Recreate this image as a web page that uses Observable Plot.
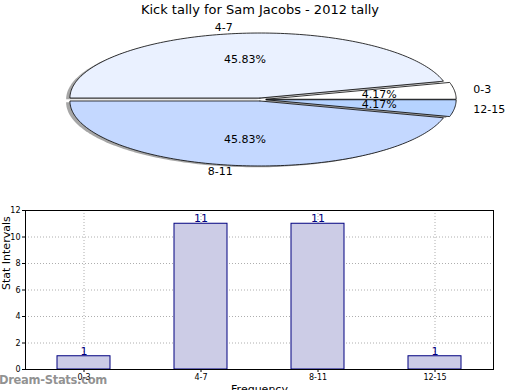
<!DOCTYPE html>
<html><head><meta charset="utf-8">
<script src="https://cdn.jsdelivr.net/npm/d3@7"></script>
<script src="https://cdn.jsdelivr.net/npm/@observablehq/plot@0.6"></script>
<style>
body{margin:0;background:#fff;font-family:"DejaVu Sans",sans-serif;}
#wrap{position:relative;width:520px;height:390px;overflow:hidden;}
#title{position:absolute;left:0;top:2px;width:520px;text-align:center;font-size:13px;color:#000;}
#pie{position:absolute;left:0;top:20px;}
#bar{position:absolute;left:0;top:200px;}
#wm{position:absolute;left:-1px;top:373px;font-size:11.5px;font-weight:600;color:rgba(110,110,110,0.75);letter-spacing:-0.3px;}
</style></head>
<body><div id="wrap">
<div id="title">Kick tally for Sam Jacobs - 2012 tally</div>
<div id="pie"></div>
<div id="bar"></div>
<div id="wm">Dream-Stats.com</div>
</div>
<script>
const categories = ["0-3", "4-7", "8-11", "12-15"];
const counts = [1, 11, 11, 1];
const pctLabels = ["4.17%", "45.83%", "45.83%", "4.17%"];
const sliceColors = ["#ffffff", "#eaf1ff", "#c4d8ff", "#b6d3ff"];
const explode = [0.03, 0.023, 0.023, 0.03];

// ---- Pie (drawn with Plot.line on linear x/y scales) ----
const total = d3.sum(counts);
let acc = 0;
const slices = categories.map((c, i) => {
  const a0 = acc / total * 2 * Math.PI;
  acc += counts[i];
  const a1 = acc / total * 2 * Math.PI;
  const mid = (a0 + a1) / 2;
  return {cat: c, i, a0, a1, mid, ox: explode[i] * Math.cos(mid), oy: explode[i] * Math.sin(mid)};
});
function polygon(s, dx, dy, kind) {
  const pts = [{x: s.ox + dx, y: s.oy + dy, cat: s.cat, kind}];
  const n = Math.max(4, Math.ceil((s.a1 - s.a0) / 0.02));
  for (let k = 0; k <= n; k++) {
    const a = s.a0 + (s.a1 - s.a0) * k / n;
    pts.push({x: s.ox + dx + Math.cos(a), y: s.oy + dy + Math.sin(a), cat: s.cat, kind});
  }
  pts.push({x: s.ox + dx, y: s.oy + dy, cat: s.cat, kind});
  return pts;
}
const shadowPts = slices.flatMap(s => polygon(s, -0.02, -0.02, "shadow"));
const slicePts = slices.flatMap(s => polygon(s, 0, 0, "slice"));
const colorOf = Object.fromEntries(categories.map((c, i) => [c, sliceColors[i]]));
const catLabels = slices.map(s => ({x: s.ox + 1.1 * Math.cos(s.mid), y: s.oy + 1.1 * Math.sin(s.mid), text: s.cat}));
const pctPos = slices.map(s => ({x: s.ox + 0.6 * Math.cos(s.mid), y: s.oy + 0.6 * Math.sin(s.mid), text: pctLabels[s.i]}));

const cx = 260, cy = 79, rx = 190, ry = 65;
const pie = Plot.plot({
  width: 520, height: 160, margin: 0,
  x: {domain: [-1, 1], range: [cx - rx, cx + rx], axis: null},
  y: {domain: [-1, 1], range: [cy + ry, cy - ry], axis: null},
  style: {fontFamily: "DejaVu Sans, sans-serif", background: "transparent"},
  marks: [
    Plot.line(shadowPts, {x: "x", y: "y", z: "cat", fill: "#4d4d4d", fillOpacity: 0.5, stroke: "none", curve: "linear"}),
    Plot.line(slicePts, {x: "x", y: "y", z: "cat", fill: d => colorOf[d.cat], stroke: "#000", strokeWidth: 0.8, curve: "linear", strokeLinejoin: "miter"}),
    Plot.text(catLabels.filter(d => d.x >= 0), {x: "x", y: "y", text: "text", textAnchor: "start", fontSize: 11, fill: "#000"}),
    Plot.text(catLabels.filter(d => d.x < 0), {x: "x", y: "y", text: "text", textAnchor: "end", fontSize: 11, fill: "#000"}),
    Plot.text(pctPos, {x: "x", y: "y", text: "text", fontSize: 11, fill: "#000"})
  ]
});
document.getElementById("pie").append(pie);

// ---- Bar chart ----
const barData = categories.map((c, i) => ({cat: c, v: counts[i]}));
const yTicks = [0, 2, 4, 6, 8, 10, 12];
const bar = Plot.plot({
  width: 520, height: 190,
  marginLeft: 25, marginRight: 27, marginTop: 10, marginBottom: 21,
  style: {fontFamily: "DejaVu Sans, sans-serif", background: "transparent", fontSize: "8px"},
  x: {domain: categories, paddingInner: 0.547, paddingOuter: 0.2735, align: 0.5, label: null},
  y: {domain: [0, 12], label: null},
  marks: [
    Plot.gridY(yTicks, {stroke: "#999", strokeOpacity: 1, strokeDasharray: "1,2", strokeWidth: 0.8}),
    Plot.gridX(categories, {stroke: "#999", strokeOpacity: 1, strokeDasharray: "1,2", strokeWidth: 0.8}),
    Plot.barY(barData, {x: "cat", y: "v", fill: "#ccccE6", stroke: "#000080", strokeWidth: 1}),
    Plot.text(barData, {x: "cat", y: "v", text: d => String(d.v), dy: -5, fontSize: 11, fill: "#000080"}),
    Plot.axisY(yTicks, {tickSize: 3, tickPadding: 2, fontSize: 8, label: null}),
    Plot.axisX(categories, {tickSize: 3, tickPadding: 2, fontSize: 8, label: null}),
    Plot.frame({stroke: "#000", strokeWidth: 1}),
    Plot.text(["Stat Intervals"], {frameAnchor: "left", rotate: -90, dx: -19, fontSize: 11, fill: "#000"}),
    Plot.text(["Frequency"], {frameAnchor: "bottom", dy: 23, fontSize: 11, fill: "#000"})
  ]
});
document.getElementById("bar").append(bar);
</script>
</body></html>
